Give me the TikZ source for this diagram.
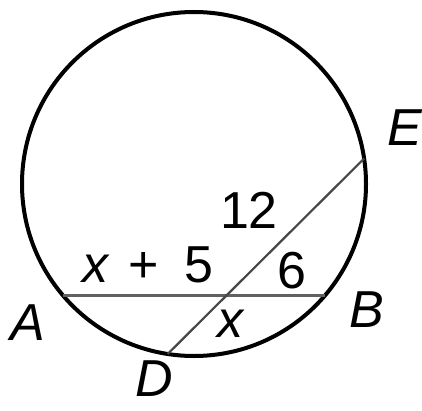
\documentclass[tikz,border=0pt]{standalone}
\usepackage{fontspec}
\setmainfont{Liberation Sans}
\usetikzlibrary{calc}
\tikzset{
  rim/.style={line width=4pt, black},
  chordline/.style={line width=3pt, black!62},
  secline/.style={line width=2.2pt, black!72},
  ptlabel/.style={font=\fontsize{52}{60}\selectfont\itshape, inner sep=0pt},
  seglabel/.style={font=\fontsize{52}{60}\selectfont, inner sep=0pt}
}
\begin{document}
\begin{tikzpicture}[x=1pt, y=1pt]
  \useasboundingbox (0,0) rectangle (422,410);
  \coordinate (O) at (194,226);
  \coordinate (A) at ($(O)+(220.2:172)$);
  \coordinate (B) at ($(O)+(319.8:172)$);
  \coordinate (D) at ($(O)+(261.2:172)$);
  \coordinate (E) at ($(O)+(8.5:172)$);
  \draw[rim] (O) circle [radius=172pt];
  \draw[chordline] (A) -- (B);
  \draw[secline] (D) -- (E);
  % point names
  \node[ptlabel] (lA) at (28,87) {A};
  \node[ptlabel] (lB) at (367,100) {B};
  \node[ptlabel] (lD) at (154,31) {D};
  \node[ptlabel] (lE) at (405,282) {E};
  % segment lengths
  \node[seglabel] (s12) at (249,200) {12};
  \node[seglabel] (sAx) at (148,145) {\textit{x}\hspace{4pt} +\hspace{12pt} 5};
  \node[seglabel] (s6) at (292,139) {6};
  \node[seglabel] (sx) at (231,86) {\textit{x}};
\end{tikzpicture}
\end{document}
